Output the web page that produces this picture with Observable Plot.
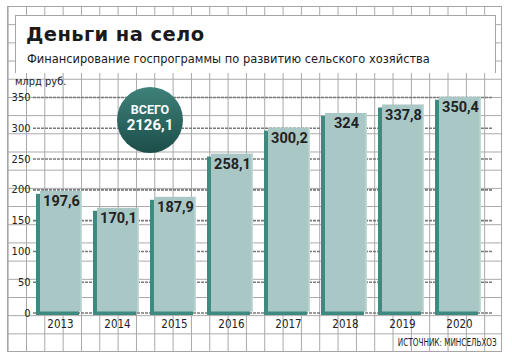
<!DOCTYPE html>
<html>
<head>
<meta charset="utf-8">
<script src="https://cdn.jsdelivr.net/npm/d3@7"></script>
<script src="https://cdn.jsdelivr.net/npm/@observablehq/plot@0.6"></script>
<style>
  html, body { margin: 0; padding: 0; background: #fff; }
  #wrap { position: relative; width: 512px; height: 360px; background: #fff; overflow: hidden; }
  #grid {
    position: absolute; left: 7px; top: 6px; width: 495px; height: 346px; box-sizing: border-box;
    border: 1px solid #a6a6a6;
    background-image: linear-gradient(to right, #a6a6a6 1px, transparent 1px),
                      linear-gradient(to bottom, #a6a6a6 1px, transparent 1px);
    background-size: 18.33px 18.2px;
    background-origin: border-box;
    background-position: 0.67px 0px;
  }
  #titlebox {
    position: absolute; left: 15px; top: 15px; width: 481px; height: 58px; box-sizing: border-box;
    background: #fff; border: 1px solid #a6a6a6; border-bottom: none;
  }
  #title {
    position: absolute; left: 10px; top: 7px; font-family: "DejaVu Sans", sans-serif; font-weight: bold;
    font-size: 19.5px; color: #1a1a1a; white-space: nowrap; letter-spacing: 0.4px;
  }
  #subtitle {
    position: absolute; left: 11px; top: 36px; font-family: "DejaVu Sans", sans-serif;
    font-size: 11.45px; color: #1a1a1a; white-space: nowrap; font-weight: 500;
  }
  #ylabel {
    position: absolute; left: 15px; top: 75px; font-family: "Liberation Sans Narrow", "DejaVu Sans Condensed", "Liberation Sans", sans-serif;
    font-size: 11px; color: #222; background: transparent; white-space: nowrap;
  }
  #chart { position: absolute; left: 0; top: 0; }
  #badge {
    position: absolute; left: 117px; top: 87px; width: 66px; height: 66px; border-radius: 50%;
    background: linear-gradient(to bottom, #3e827a, #1c4d49);
    color: #fff; font-family: Roboto, "Liberation Sans", sans-serif; font-weight: bold; text-align: center;
  }
  #badge .l1 { position: absolute; left: 0; right: 0; top: 16px; font-size: 12.5px; line-height: 14px; }
  #badge .l2 { position: absolute; left: 0; right: 0; top: 30px; font-size: 15px; line-height: 16px; }
  #source {
    position: absolute; right: 15px; top: 337px; font-family: "Liberation Sans Narrow", "DejaVu Sans Condensed", "Liberation Sans", sans-serif;
    font-size: 9.6px; color: #222; white-space: nowrap; transform: scaleX(0.84); transform-origin: right center;
  }
</style>
</head>
<body>
<div id="wrap">
  <div id="grid"></div>
  <div id="titlebox">
    <div id="title"></div>
    <div id="subtitle"></div>
  </div>
  <div id="ylabel"></div>
  <div id="chart"></div>
  <div id="badge"><div class="l1"></div><div class="l2"></div></div>
  <div id="source"></div>
</div>
<script>
const titleText = "Деньги на село";
const subtitleText = "Финансирование госпрограммы по развитию сельского хозяйства";
const unitLabel = "млрд руб.";
const sourceText = "ИСТОЧНИК: МИНСЕЛЬХОЗ";
const totalLabel = "ВСЕГО";

const years = ["2013", "2014", "2015", "2016", "2017", "2018", "2019", "2020"];
const values = [197.6, 170.1, 187.9, 258.1, 300.2, 324, 337.8, 350.4];
const yTicks = [0, 50, 100, 150, 200, 250, 300, 350];

const fmt = v => String(v).replace(".", ",");
const data = years.map((year, i) => ({year, value: values[i]}));
const total = d3.format(".1f")(d3.sum(values)).replace(".", ",");

document.getElementById("title").textContent = titleText;
document.getElementById("subtitle").textContent = subtitleText;
document.getElementById("ylabel").textContent = unitLabel;
document.getElementById("source").textContent = sourceText;
document.querySelector("#badge .l1").textContent = totalLabel;
document.querySelector("#badge .l2").textContent = total;

const narrow = "'Liberation Sans Narrow', 'DejaVu Sans Condensed', 'Liberation Sans', sans-serif";
const faceColor = "#a8c7c5";
const edgeColor = "#c3d9d7";
const sideColor = "#3f8a80";

const chart = Plot.plot({
  width: 512,
  height: 360,
  marginTop: 97,
  marginBottom: 47.5,
  marginLeft: 33,
  marginRight: 19,
  style: {background: "transparent", fontFamily: narrow, fontSize: "11px", color: "#222", overflow: "visible"},
  x: {domain: years, range: [30.5, 486.5], paddingInner: 0.193, paddingOuter: 0.0965},
  y: {domain: [0, 350]},
  marks: [
    Plot.ruleY(yTicks, {stroke: "#7a7a7a", strokeWidth: 1.6, strokeDasharray: "3,1"}),
    Plot.barY(data, {x: "year", y: "value", fill: sideColor, dy: 3, insetRight: 3, insetBottom: 0.5}),
    Plot.barY(data, {x: "year", y: "value", fill: faceColor, insetLeft: 4, insetBottom: 1}),
    Plot.barY(data, {x: "year", y: "value", fill: edgeColor, insetLeft: 44.5, insetBottom: 1}),
    Plot.text(data, {x: "year", y: "value", text: d => fmt(d.value), lineAnchor: "top", dy: 4.5, dx: 2,
      fontWeight: "bold", fontSize: 14.5, fontFamily: "Roboto, 'Liberation Sans', sans-serif", fill: "#222"}),
    Plot.axisY(yTicks, {tickSize: 0, tickPadding: 3, label: null, fontSize: 11}),
    Plot.axisX({tickSize: 0, tickPadding: 7, label: null, dx: 1, fontSize: 11.5})
  ]
});
document.getElementById("chart").appendChild(chart);
</script>
</body>
</html>
